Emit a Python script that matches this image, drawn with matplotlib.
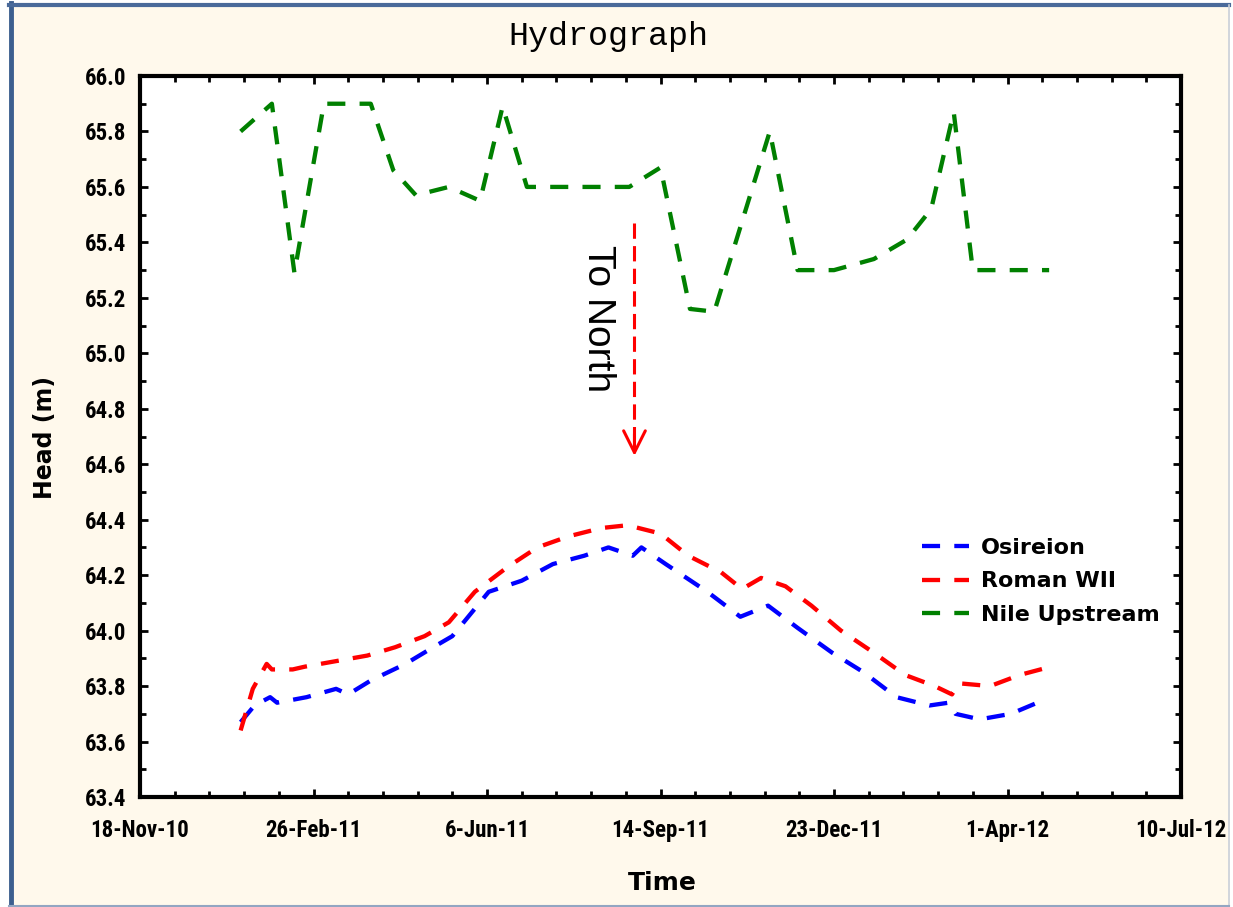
import numpy as np
import pandas as pd
import matplotlib
matplotlib.use("Agg")
import matplotlib.pyplot as plt
import matplotlib.dates as mdates
from matplotlib import font_manager
from matplotlib.ticker import FixedLocator, MultipleLocator, FormatStrFormatter
from matplotlib.lines import Line2D
from matplotlib.patches import Rectangle
from datetime import datetime, timedelta

nile_dates = ["2011-01-15", "2011-02-02", "2011-02-15", "2011-03-04", "2011-03-31",
              "2011-04-13", "2011-04-26", "2011-05-15", "2011-06-02", "2011-06-15",
              "2011-06-29", "2011-08-27", "2011-09-14", "2011-10-01", "2011-10-15",
              "2011-11-16", "2011-12-02", "2011-12-23", "2012-01-15", "2012-02-03",
              "2012-02-17", "2012-03-01", "2012-03-12", "2012-04-25"]
nile_head = [65.80, 65.90, 65.29, 65.90, 65.90,
             65.66, 65.57, 65.60, 65.55, 65.89,
             65.60, 65.60, 65.67, 65.16, 65.15,
             65.80, 65.30, 65.30, 65.34, 65.41,
             65.52, 65.87, 65.30, 65.30]

osi_dates = ["2011-01-15", "2011-01-23", "2011-02-01", "2011-02-05", "2011-02-22",
             "2011-03-11", "2011-03-18", "2011-03-31", "2011-04-20", "2011-05-06",
             "2011-05-17", "2011-06-07", "2011-06-26", "2011-07-14", "2011-08-01",
             "2011-08-15", "2011-08-29", "2011-09-03", "2011-09-17", "2011-10-11",
             "2011-10-30", "2011-11-15", "2011-12-02", "2011-12-22", "2012-01-09",
             "2012-01-28", "2012-02-16", "2012-02-27", "2012-03-02", "2012-03-16",
             "2012-04-03", "2012-04-22"]
osi_head = [63.67, 63.73, 63.76, 63.74, 63.76,
            63.79, 63.77, 63.82, 63.88, 63.94,
            63.98, 64.14, 64.18, 64.24, 64.27,
            64.30, 64.27, 64.30, 64.24, 64.14,
            64.05, 64.09, 64.01, 63.92, 63.85,
            63.76, 63.73, 63.74, 63.70, 63.68,
            63.70, 63.75]

rom_dates = ["2011-01-15", "2011-01-22", "2011-01-30", "2011-02-02", "2011-02-14",
             "2011-02-21", "2011-03-11", "2011-03-29", "2011-04-14", "2011-05-01",
             "2011-05-15", "2011-05-30", "2011-06-18", "2011-07-05", "2011-07-23",
             "2011-08-11", "2011-08-26", "2011-09-14", "2011-09-30", "2011-10-19",
             "2011-10-31", "2011-11-11", "2011-11-25", "2011-12-10", "2011-12-27",
             "2012-01-15", "2012-02-02", "2012-02-19", "2012-02-29", "2012-03-04",
             "2012-03-22", "2012-04-08", "2012-04-26"]
rom_head = [63.64, 63.79, 63.88, 63.86, 63.86,
            63.87, 63.89, 63.91, 63.94, 63.98,
            64.03, 64.14, 64.23, 64.30, 64.34,
            64.37, 64.38, 64.35, 64.27, 64.21,
            64.15, 64.19, 64.16, 64.09, 64.00,
            63.92, 63.84, 63.80, 63.77, 63.81,
            63.80, 63.84, 63.87]

x_start = datetime(2010, 11, 18)
x_end = datetime(2012, 7, 10)
xtick_labels = ["18-Nov-10", "26-Feb-11", "6-Jun-11", "14-Sep-11",
                "23-Dec-11", "1-Apr-12", "10-Jul-12"]

arrow_date = "2011-08-30"
arrow_top, arrow_tip = 65.47, 64.63
note_date = "2011-08-09"
note_head = 65.125

# narrow face for the tick labels, if one is there
have = {f.name for f in font_manager.fontManager.ttflist}
tick_font = "Liberation Sans"
for cand in ["Liberation Sans Narrow", "Arial Narrow", "Roboto Condensed", "Archivo Narrow"]:
    if cand in have:
        tick_font = cand
        break

W, H = 1233, 907
fig = plt.figure(figsize=(W / 100, H / 100), dpi=100, facecolor="white")

# cream background with the blue frame
fig.patches.append(Rectangle((10 / W, 1 - 905 / H), 1218 / W, 900 / H,
                             transform=fig.transFigure, facecolor="#FFF9EC",
                             edgecolor="none", zorder=-2))
fig.add_artist(Line2D([10.5 / W, 10.5 / W], [1 - 906 / H, 1 - 3 / H],
                      transform=fig.transFigure, color="#3D5F8F", lw=3.5))
fig.add_artist(Line2D([9 / W, 1229 / W], [1 - 5 / H, 1 - 5 / H],
                      transform=fig.transFigure, color="#4A6A9A", lw=3))
fig.add_artist(Line2D([1228.5 / W, 1228.5 / W], [1 - 906 / H, 1 - 5 / H],
                      transform=fig.transFigure, color="#C9CED6", lw=1.2))
fig.add_artist(Line2D([9 / W, 1229 / W], [1 - 905.5 / H, 1 - 905.5 / H],
                      transform=fig.transFigure, color="#93A6C2", lw=1.5))

ax = fig.add_axes([140 / W, 1 - 797 / H, 1041 / W, 721 / H])
ax.set_facecolor("white")

dash = (4.2, 3.3)
ax.plot(pd.to_datetime(osi_dates), osi_head, color="#0000FF", lw=3.1, dashes=dash, label="Osireion")
ax.plot(pd.to_datetime(rom_dates), rom_head, color="#FF0000", lw=3.1, dashes=dash, label="Roman WII")
ax.plot(pd.to_datetime(nile_dates), nile_head, color="#008000", lw=3.1, dashes=dash, label="Nile Upstream")

# arrow "To North"
ad = pd.to_datetime(arrow_date)
ax.plot([ad, ad], [arrow_top, arrow_tip + 0.03], color="#FF0000", lw=2.2, dashes=(5, 2.4))
ax.annotate("", xy=(ad, arrow_tip), xytext=(ad, arrow_tip + 0.08),
            arrowprops=dict(arrowstyle="->", color="#FF0000", lw=2.2, mutation_scale=39,
                            shrinkA=0, shrinkB=0))
ax.text(pd.to_datetime(note_date), note_head, "To North", rotation=270,
        ha="center", va="center", fontsize=28, family="Liberation Sans")

ax.set_xlim(x_start, x_end)
ax.set_ylim(63.4, 66.0)

major_x = [mdates.date2num(x_start + timedelta(days=100 * i)) for i in range(7)]
minor_x = [mdates.date2num(x_start + timedelta(days=20 * i)) for i in range(31)]
ax.xaxis.set_major_locator(FixedLocator(major_x))
ax.xaxis.set_minor_locator(FixedLocator(minor_x))
ax.set_xticklabels(xtick_labels)
ax.yaxis.set_major_locator(MultipleLocator(0.2))
ax.yaxis.set_minor_locator(MultipleLocator(0.1))
ax.yaxis.set_major_formatter(FormatStrFormatter("%.1f"))

for s in ax.spines.values():
    s.set_linewidth(3)
ax.tick_params(which="both", direction="in", top=True, right=True, width=2)
ax.tick_params(which="major", length=6)
ax.tick_params(which="minor", length=4)
ax.tick_params(axis="x", which="major", pad=16)
ax.tick_params(axis="y", which="major", pad=10)
for lab in ax.get_xticklabels() + ax.get_yticklabels():
    lab.set_family(tick_font)
    lab.set_fontsize(16.5 if tick_font != "Liberation Sans" else 15)
    lab.set_fontweight("bold")

leg = ax.legend(loc="upper left", bbox_to_anchor=(922 / W, 1 - 538 / H),
                bbox_transform=fig.transFigure, frameon=False, borderpad=0,
                borderaxespad=0, handlelength=2.1, handletextpad=0.55,
                labelspacing=0.6, prop=dict(family="DejaVu Sans", weight="bold", size=16))

fig.text(608 / W, 1 - 36 / H, "Hydrograph", ha="center", va="center",
         family="Liberation Mono", fontsize=24)
fig.text(45 / W, 1 - 437 / H, "Head (m)", rotation=90, ha="center", va="center",
         family="DejaVu Sans", weight="bold", fontsize=17)
fig.text(662 / W, 1 - 883 / H, "Time", ha="center", va="center",
         family="DejaVu Sans", weight="bold", fontsize=18)

fig.savefig("out.png", dpi=100, facecolor=fig.get_facecolor())
